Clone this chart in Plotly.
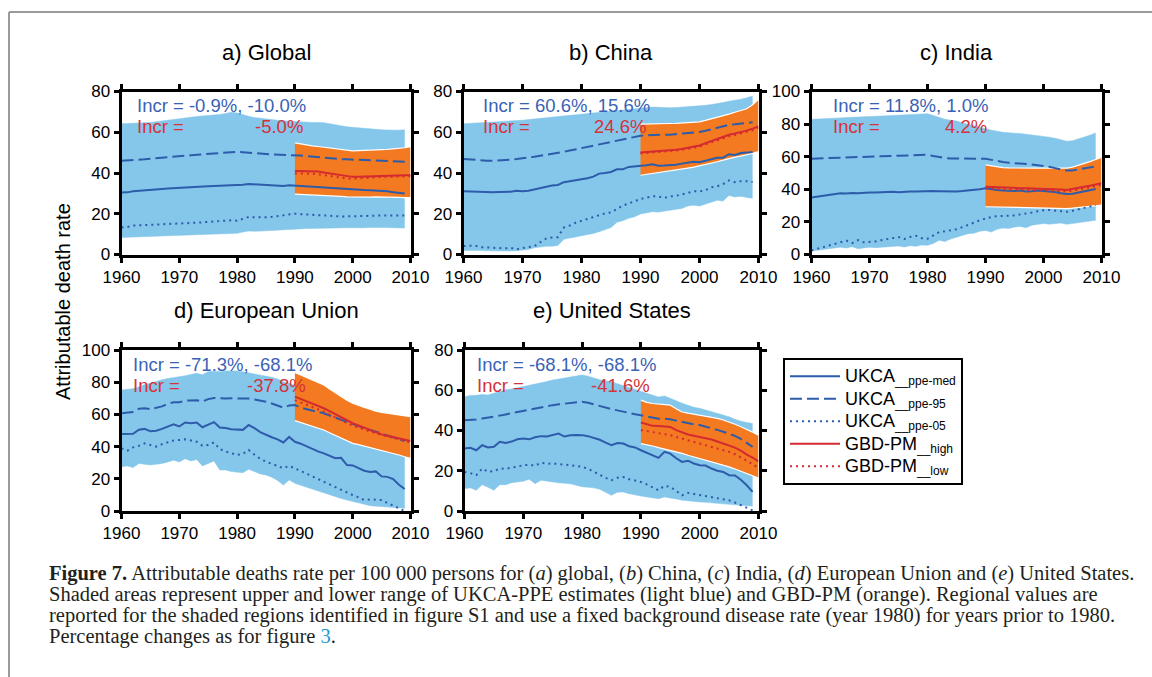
import plotly.graph_objects as go

# ---------------- data ----------------
years_ukca = list(range(1960, 2010))   # 1960..2009
years_gbd = list(range(1990, 2011))    # 1990..2010

panel_titles = ["a) Global", "b) China", "c) India", "d) European Union", "e) United States"]
incr_blue = ["Incr = -0.9%, -10.0%", "Incr = 60.6%, 15.6%", "Incr = 11.8%, 1.0%",
             "Incr = -71.3%, -68.1%", "Incr = -68.1%, -68.1%"]
incr_red = ["-5.0%", "24.6%", "4.2%", "-37.8%", "-41.6%"]
y_max = [80, 80, 100, 100, 80]
x_ticks = [1960, 1970, 1980, 1990, 2000, 2010]

# Global
up_a = [64.2,64.3,64.4,64.5,64.6,64.8,65.2,65.6,66.0,66.4,66.8,67.1,67.4,67.7,68.0,68.2,68.4,68.7,69.2,69.8,69.5,68.6,67.8,67.2,66.8,66.5,66.2,65.9,65.6,65.4,65.2,65.0,64.9,64.8,64.8,64.7,64.2,63.6,63.0,62.7,62.4,62.1,61.8,61.6,61.4,61.2,61.1,61.0,61.0,61.2]
lo_a = [8.4,8.5,8.6,8.7,8.8,8.9,9.0,9.1,9.3,9.5,9.6,9.7,9.8,9.9,10.0,10.0,10.1,10.1,10.2,10.2,10.4,11.0,11.5,11.4,11.4,11.6,11.8,12.0,12.2,12.4,12.6,12.5,12.7,12.8,12.9,13.0,12.9,13.0,13.1,13.1,13.1,13.0,13.1,13.2,13.3,13.3,13.2,13.1,13.0,13.0]
med_a = [30.4,30.5,31.0,31.3,31.5,31.7,32.0,32.2,32.4,32.6,32.8,33.0,33.1,33.2,33.4,33.5,33.6,33.7,33.8,33.8,33.8,34.2,34.6,34.4,34.1,33.9,33.8,33.7,33.6,34.0,33.8,33.5,33.3,33.1,33.0,32.8,32.5,32.3,32.1,32.0,31.9,31.7,31.6,31.5,31.4,31.2,31.0,30.6,30.2,29.9]
p95_a = [46.0,46.1,46.3,46.5,46.7,47.0,47.3,47.5,47.8,48.0,48.3,48.5,48.7,49.0,49.2,49.4,49.6,49.8,50.0,50.2,50.4,50.2,49.9,49.7,49.5,49.3,49.1,49.0,48.9,48.9,48.9,48.6,48.3,48.0,47.7,47.4,47.2,47.0,46.8,46.7,46.6,46.4,46.3,46.2,46.1,46.0,45.9,45.8,45.6,45.5]
p05_a = [13.3,13.5,14.2,14.3,14.4,14.5,14.6,14.7,14.8,14.9,15.0,15.2,15.4,15.6,15.8,16.0,16.2,16.4,16.6,16.8,16.6,17.5,18.4,18.3,18.2,18.3,18.5,18.8,19.1,19.5,20.0,19.8,19.6,19.4,19.3,19.2,19.0,18.8,18.7,18.7,18.7,18.8,18.9,19.0,19.1,19.2,19.3,19.2,19.2,19.2]
gu_a = [54.8,54.2,53.7,53.3,53.0,52.6,52.2,51.8,51.4,51.1,50.9,51.0,51.2,51.3,51.4,51.5,51.6,51.8,52.0,52.4,52.9]
gl_a = [29.6,29.5,29.4,29.3,29.2,29.1,28.9,28.7,28.5,28.3,28.2,28.2,28.2,28.2,28.3,28.3,28.2,28.1,28.0,27.9,27.9]
gh_a = [41.0,41.0,41.0,40.9,40.7,40.3,39.8,39.3,38.8,38.4,38.1,38.1,38.2,38.4,38.6,38.8,38.8,38.9,38.9,38.9,38.9]
gw_a = [39.8,39.8,39.7,39.6,39.4,39.0,38.5,38.0,37.6,37.3,37.2,37.3,37.5,37.7,37.9,38.1,38.2,38.3,38.3,38.4,38.4]

# China
up_b = [64.2,64.3,64.5,64.7,64.9,65.0,65.2,65.3,65.5,65.7,65.9,66.2,66.5,66.8,67.1,67.4,67.6,67.9,68.2,68.4,68.7,69.0,69.4,69.7,70.0,70.4,70.7,71.0,71.3,71.6,72.0,72.3,72.4,72.3,72.1,72.0,72.1,72.3,72.5,72.7,72.8,73.2,73.6,74.0,74.6,75.2,75.6,76.2,76.9,77.8]
lo_b = [2.0,2.1,1.9,2.0,1.8,1.7,1.8,1.6,1.7,1.9,2.2,2.5,3.3,3.8,4.0,4.1,4.4,7.5,8.0,8.5,9.1,9.6,10.3,11.2,12.2,13.2,15.8,16.6,17.8,18.5,19.9,20.4,21.0,20.8,21.3,21.5,22.0,22.6,23.8,24.2,23.8,24.8,25.6,26.6,26.2,29.0,28.2,28.6,28.0,27.6]
med_b = [31.0,30.9,30.8,30.7,30.5,30.6,30.7,30.6,30.8,31.3,31.0,31.3,31.9,32.6,33.2,33.9,34.1,35.5,36.0,36.4,36.8,37.4,38.2,39.7,40.0,40.5,41.8,41.8,43.0,43.2,43.5,43.8,44.3,43.6,43.7,43.8,44.1,44.6,45.0,45.5,45.3,46.0,46.6,47.5,47.5,49.2,48.8,49.8,50.0,50.3]
p95_b = [46.9,46.6,46.4,46.2,46.0,46.0,46.1,46.3,46.6,46.9,47.2,47.6,48.0,48.5,48.9,49.3,49.8,50.4,51.0,51.6,52.2,52.9,53.6,54.3,54.9,55.5,56.1,56.7,57.3,57.8,58.3,58.5,58.7,58.8,58.8,58.8,59.0,59.3,59.6,59.9,60.1,60.7,61.4,62.0,62.8,63.7,63.9,64.2,64.5,64.9]
p05_b = [4.2,4.3,4.3,3.6,3.5,3.3,3.2,3.0,3.3,2.5,3.2,3.6,4.1,6.0,7.8,8.3,8.5,13.2,14.2,15.6,16.6,17.5,18.4,19.5,20.2,20.7,22.5,24.0,25.0,26.0,27.3,27.8,28.6,28.5,27.8,28.5,28.8,29.5,30.3,31.0,31.0,31.5,33.0,33.5,34.5,36.4,35.5,36.0,36.0,35.6]
gu_b = [64.0,64.0,64.1,64.1,64.2,64.3,64.4,64.5,64.6,64.8,65.1,65.8,66.5,67.3,68.1,68.9,69.8,70.6,71.5,73.5,76.2]
gl_b = [38.9,39.3,39.8,40.2,40.6,41.0,41.5,41.9,42.4,42.9,43.5,44.1,44.8,45.5,46.3,47.2,47.8,48.3,48.8,49.6,50.5]
gh_b = [50.0,50.2,50.4,50.6,50.8,51.0,51.4,51.8,52.3,52.8,53.5,54.6,55.6,56.6,57.7,58.8,59.4,60.0,60.8,61.8,62.9]
gw_b = [49.6,49.8,50.0,50.2,50.4,50.6,51.0,51.4,51.8,52.3,53.0,54.0,55.0,56.0,57.0,58.0,58.6,59.3,60.0,61.0,62.1]

# India
up_c = [82.9,83.0,83.2,83.4,83.6,83.8,84.0,84.1,84.2,84.3,84.5,84.7,84.9,85.1,85.3,85.5,85.7,85.9,86.1,86.3,86.4,85.2,84.0,83.0,82.4,81.9,80.8,79.8,78.8,77.9,77.1,76.3,75.6,75.0,74.7,74.6,74.2,73.8,73.4,73.0,72.6,72.0,71.3,70.5,69.5,69.8,70.8,71.9,73.2,74.6]
lo_c = [2.1,2.5,3.0,3.5,4.0,4.5,4.0,4.8,3.6,4.2,4.5,4.2,4.4,4.7,4.9,5.2,4.6,5.4,5.0,5.8,5.6,6.8,8.7,8.0,9.5,10.7,11.5,12.8,13.0,14.2,14.8,13.8,15.5,16.2,16.0,16.9,17.2,16.4,18.0,18.5,19.0,18.6,18.8,19.3,18.5,19.0,19.5,20.0,20.5,21.0]
med_c = [35.0,35.5,36.3,36.8,37.2,37.5,37.4,37.8,37.6,38.0,38.1,38.0,38.3,38.4,38.5,38.2,38.6,38.7,38.6,38.8,39.0,38.9,38.8,38.7,38.6,38.6,38.9,39.2,39.6,40.1,40.6,40.0,39.6,39.3,39.0,39.0,39.2,38.6,38.8,39.2,39.0,38.7,38.3,37.6,37.1,37.3,38.0,38.8,39.5,40.2]
p95_c = [58.8,58.9,59.0,59.1,59.3,59.4,59.5,59.6,59.7,59.8,59.8,59.9,60.0,60.1,60.2,60.4,60.5,60.7,60.9,61.0,61.2,60.4,59.7,59.2,58.9,58.8,58.7,58.7,58.8,58.8,58.8,58.0,57.3,56.7,56.3,56.1,55.9,55.6,55.2,54.8,54.4,53.8,53.0,52.2,51.5,51.6,52.1,52.7,53.4,54.0]
p05_c = [2.5,3.5,4.5,5.5,6.5,7.6,8.5,7.0,8.8,7.5,7.6,8.0,8.8,9.5,10.0,10.7,9.5,10.8,11.5,10.0,9.7,11.5,13.8,14.2,14.8,15.5,16.8,18.0,19.5,21.0,22.0,23.0,23.5,23.5,23.8,24.0,24.5,25.2,25.8,26.5,27.2,27.3,27.0,26.6,26.2,26.8,27.6,28.5,29.4,30.3]
gu_c = [55.0,54.4,53.8,53.3,53.1,53.0,53.0,53.0,53.0,53.0,53.0,53.0,53.0,53.0,53.0,53.6,54.6,55.8,57.0,58.3,59.6]
gl_c = [29.3,29.2,29.1,29.0,29.0,28.9,28.9,28.8,28.8,28.7,28.7,28.6,28.5,28.4,28.2,28.4,28.8,29.2,29.6,30.0,30.3]
gh_c = [41.6,41.4,41.2,41.0,40.9,40.8,40.7,40.7,40.6,40.6,40.6,40.4,40.2,39.9,39.6,40.1,40.8,41.5,42.2,43.0,43.7]
gw_c = [40.6,40.4,40.2,40.0,39.9,39.8,39.7,39.7,39.6,39.6,39.6,39.4,39.2,38.9,38.7,39.1,39.8,40.5,41.2,42.0,42.7]

# European Union
up_d = [75.2,75.6,76.0,77.0,78.5,79.3,80.5,81.5,82.3,82.8,83.4,84.0,84.8,85.5,84.6,86.5,86.8,86.5,87.0,87.0,87.0,86.5,85.8,85.2,84.6,84.0,83.0,82.0,80.3,79.3,78.0,76.8,75.5,74.3,73.1,72.0,70.2,68.4,66.6,64.8,63.0,61.8,60.6,59.4,58.2,57.0,56.5,56.0,55.5,55.0]
lo_d = [27.5,28.0,27.0,29.5,29.0,28.6,29.0,29.5,30.5,31.5,30.5,32.5,31.0,32.0,28.0,29.6,31.0,25.5,25.5,24.5,24.0,23.8,26.0,24.5,23.0,22.4,21.0,19.0,16.1,19.3,17.2,16.0,14.8,13.6,12.3,11.0,10.0,9.0,7.8,6.8,5.8,5.0,4.2,3.3,3.1,2.7,2.4,2.1,1.9,1.7]
med_d = [47.8,48.0,48.0,50.5,51.0,49.5,49.8,51.0,52.5,53.8,52.5,55.0,54.5,55.0,52.0,53.8,55.2,51.8,51.6,50.8,50.5,50.4,53.4,51.5,49.0,47.2,45.8,44.5,42.6,46.0,43.0,41.8,40.2,38.2,37.0,35.8,34.5,32.8,33.0,28.5,28.3,26.8,25.0,24.3,24.6,21.5,21.2,19.8,16.3,13.7]
p95_d = [60.7,61.0,61.5,63.5,63.8,63.2,64.0,65.0,66.5,67.5,67.5,68.5,68.7,68.8,68.0,69.5,70.2,69.8,69.8,70.0,70.0,70.0,69.8,69.3,68.7,67.9,66.8,65.5,64.2,65.5,65.8,64.2,63.2,62.3,61.5,60.7,59.3,57.9,56.5,55.1,53.8,52.7,51.5,50.4,49.3,48.2,47.1,45.9,44.7,43.5]
p05_d = [38.9,37.5,39.5,40.5,42.0,41.0,40.0,41.5,42.5,43.8,44.1,44.5,43.8,43.0,40.5,41.0,42.6,38.5,37.0,36.0,34.8,35.5,37.9,35.0,32.5,30.6,29.5,28.0,26.5,28.0,26.5,25.0,23.2,21.5,19.8,18.2,16.5,14.8,13.2,11.5,9.9,8.5,6.8,7.2,7.0,6.8,5.0,3.2,1.5,0.0]
gu_d = [86.1,84.5,82.8,81.0,79.8,78.3,75.8,73.4,71.0,68.8,66.9,65.4,64.4,63.2,62.0,61.3,60.8,60.3,59.7,59.1,58.6]
gl_d = [56.1,55.0,53.8,52.6,51.5,50.3,48.6,47.0,45.3,43.6,42.0,41.2,40.3,39.5,38.7,37.9,36.9,35.8,34.8,33.7,32.7]
gh_d = [71.0,69.6,68.1,66.7,65.2,63.8,62.0,60.1,58.2,56.3,54.5,53.1,51.7,50.3,48.9,47.6,46.8,46.0,45.1,44.3,43.5]
gw_d = [68.9,67.5,66.0,64.6,63.1,61.7,59.9,58.1,56.4,54.7,53.0,51.8,50.5,49.3,48.2,47.2,46.3,45.3,44.4,43.5,42.6]

# United States
up_e = [56.8,57.4,57.5,57.9,57.6,58.4,59.5,60.3,60.6,61.2,61.7,62.3,62.8,63.7,64.3,65.1,65.5,66.2,66.6,67.1,67.6,67.0,66.0,65.2,64.7,64.2,63.2,62.3,61.3,60.3,59.3,58.5,57.6,56.6,57.2,55.9,54.8,53.6,52.5,51.5,51.0,50.2,49.4,48.6,47.6,46.8,45.6,44.6,44.0,43.5]
lo_e = [11.1,11.5,10.3,13.1,11.8,10.3,13.1,13.0,14.0,14.5,14.8,15.8,13.6,15.3,14.8,14.4,14.0,13.8,13.5,12.8,12.0,11.8,11.5,10.8,9.5,7.8,9.3,9.5,8.6,8.2,7.5,7.0,6.4,6.1,7.0,6.6,6.0,5.4,5.0,4.8,4.5,4.3,4.0,3.7,3.4,3.2,3.0,2.8,2.6,2.5]
med_e = [31.0,31.4,30.2,32.7,31.6,31.9,34.4,33.8,34.5,35.6,36.0,35.6,36.6,37.2,37.0,37.7,38.5,37.0,37.6,37.8,37.7,37.2,36.2,35.4,34.0,32.7,33.8,33.5,32.2,31.6,30.2,28.8,27.8,26.4,29.4,28.5,26.2,24.4,25.0,23.6,22.7,22.6,21.1,20.0,19.4,17.8,17.7,15.5,12.8,9.5]
p95_e = [45.1,45.2,45.5,46.0,46.4,46.8,47.4,48.0,48.6,49.1,49.6,50.2,50.8,51.4,52.0,52.6,53.0,53.3,53.6,54.0,54.3,53.8,53.0,52.0,51.3,50.6,50.0,49.3,48.7,48.1,47.6,47.0,46.4,45.8,45.8,45.6,44.9,44.2,43.6,43.1,42.7,42.0,41.2,40.3,39.4,38.5,37.3,35.8,34.0,31.9]
p05_e = [19.4,18.8,17.8,21.1,19.5,19.8,21.1,21.0,21.5,22.2,22.7,23.0,22.5,24.0,23.5,23.6,23.4,23.2,22.8,22.4,21.9,21.0,19.5,17.8,16.5,15.3,16.5,16.9,15.8,15.2,14.4,13.2,11.8,10.3,12.5,12.0,10.0,7.8,9.0,8.5,8.1,7.6,7.0,6.4,5.8,5.3,4.2,3.0,1.6,0.3]
gu_e = [55.1,54.0,53.4,53.2,53.0,52.6,50.8,49.2,48.6,48.1,47.6,47.0,46.5,46.0,45.2,44.3,43.1,41.9,40.7,39.2,37.7]
gl_e = [33.5,33.0,32.3,31.5,30.8,30.2,29.4,28.6,27.7,26.9,26.1,25.3,24.5,23.6,22.8,21.9,20.9,19.8,18.7,17.6,16.4]
gh_e = [44.0,43.0,42.3,42.2,42.0,41.8,40.2,39.0,38.0,37.4,36.8,36.0,35.5,34.5,33.5,32.7,31.5,30.0,28.0,26.5,24.7]
gw_e = [40.2,39.7,39.2,38.7,38.2,37.7,36.8,36.0,35.2,34.3,33.5,32.7,31.9,31.1,30.2,29.4,28.2,26.8,25.0,23.3,21.4]

ukca_up = [up_a, up_b, up_c, up_d, up_e]
ukca_lo = [lo_a, lo_b, lo_c, lo_d, lo_e]
ukca_med = [med_a, med_b, med_c, med_d, med_e]
ukca_95 = [p95_a, p95_b, p95_c, p95_d, p95_e]
ukca_05 = [p05_a, p05_b, p05_c, p05_d, p05_e]
gbd_up = [gu_a, gu_b, gu_c, gu_d, gu_e]
gbd_lo = [gl_a, gl_b, gl_c, gl_d, gl_e]
gbd_high = [gh_a, gh_b, gh_c, gh_d, gh_e]
gbd_low = [gw_a, gw_b, gw_c, gw_d, gw_e]

legend_main = ["UKCA", "UKCA", "UKCA", "GBD-PM", "GBD-PM"]
legend_sub = ["__ppe-med", "__ppe-95", "__ppe-05", "__high", "__low"]

caption_lines = [
    "<b>Figure 7.</b> Attributable deaths rate per 100 000 persons for (<i>a</i>) global, (<i>b</i>) China, (<i>c</i>) India, (<i>d</i>) European Union and (<i>e</i>) United States.",
    "Shaded areas represent upper and lower range of UKCA-PPE estimates (light blue) and GBD-PM (orange). Regional values are",
    "reported for the shaded regions identified in figure S1 and use a fixed background disease rate (year 1980) for years prior to 1980.",
    "Percentage changes as for figure <span style='color:#1f9bd0'>3</span>.",
]

# ---------------- style / layout ----------------
W, H = 1152, 677
FONT = "Liberation Sans, Arial, sans-serif"
SERIF = "Liberation Serif, Times New Roman, serif"
BLUE = "#2d5caa"
RED = "#d42a30"
LIGHTBLUE = "#85c6eb"
ORANGE = "#f37a21"
TXT_BLUE = "#3a62b4"
TXT_RED = "#d4333a"

# pixel boxes (left, right, top, bottom)
boxes = [(121.5, 410.5, 91.5, 254.5), (463.5, 758.5, 91.5, 254.5), (811.5, 1101.5, 91.5, 254.5),
         (121.5, 410.5, 350, 511), (464.5, 758.5, 350, 511)]
incr_pos = [(135, 305, 106, 126), (481, 648, 106, 126), (831, 989, 106, 126),
            (131, 308, 364, 385), (475, 652, 364, 385)]


def px(x):
    return x / W


def py(y):
    return 1 - y / H


def legend_label(k):
    return (f"<span style='font-size:18px'>{legend_main[k]}</span>"
            f"<sub><span style='font-size:12px'>{legend_sub[k]}</span></sub>")


fig = go.Figure()
annotations = []

for i in range(5):
    xa = "x" if i == 0 else f"x{i+1}"
    ya = "y" if i == 0 else f"y{i+1}"
    leg = (i == 0)
    # UKCA band
    fig.add_trace(go.Scatter(x=years_ukca, y=ukca_lo[i], xaxis=xa, yaxis=ya, mode="lines",
                             line=dict(color=LIGHTBLUE, width=0.5), showlegend=False, hoverinfo="skip"))
    fig.add_trace(go.Scatter(x=years_ukca, y=ukca_up[i], xaxis=xa, yaxis=ya, mode="lines",
                             line=dict(color=LIGHTBLUE, width=0.5), fill="tonexty", fillcolor=LIGHTBLUE,
                             showlegend=False, hoverinfo="skip"))
    # GBD band
    fig.add_trace(go.Scatter(x=years_gbd, y=gbd_lo[i], xaxis=xa, yaxis=ya, mode="lines",
                             line=dict(color="white", width=1.2), showlegend=False, hoverinfo="skip"))
    fig.add_trace(go.Scatter(x=years_gbd, y=gbd_up[i], xaxis=xa, yaxis=ya, mode="lines",
                             line=dict(color="white", width=1.2), fill="tonexty", fillcolor=ORANGE,
                             showlegend=False, hoverinfo="skip"))
    # lines
    fig.add_trace(go.Scatter(x=years_ukca, y=ukca_med[i], xaxis=xa, yaxis=ya, mode="lines",
                             line=dict(color=BLUE, width=2), name=legend_label(0), showlegend=leg))
    fig.add_trace(go.Scatter(x=years_ukca, y=ukca_95[i], xaxis=xa, yaxis=ya, mode="lines",
                             line=dict(color=BLUE, width=2, dash="12px,5px"), name=legend_label(1), showlegend=leg))
    fig.add_trace(go.Scatter(x=years_ukca, y=ukca_05[i], xaxis=xa, yaxis=ya, mode="lines",
                             line=dict(color=BLUE, width=2, dash="2px,4px"), name=legend_label(2), showlegend=leg))
    fig.add_trace(go.Scatter(x=years_gbd, y=gbd_high[i], xaxis=xa, yaxis=ya, mode="lines",
                             line=dict(color=RED, width=2), name=legend_label(3), showlegend=leg))
    fig.add_trace(go.Scatter(x=years_gbd, y=gbd_low[i], xaxis=xa, yaxis=ya, mode="lines",
                             line=dict(color=RED, width=2, dash="2px,4px"), name=legend_label(4), showlegend=leg))

    l, r, t, b = boxes[i]
    axis_common = dict(showline=True, linecolor="black", linewidth=3, mirror="ticks",
                       ticks="outside", ticklen=5, tickwidth=3, tickcolor="black",
                       showgrid=False, zeroline=False, automargin=False,
                       tickfont=dict(family=FONT, size=17, color="black"))
    xkey = "xaxis" if i == 0 else f"xaxis{i+1}"
    ykey = "yaxis" if i == 0 else f"yaxis{i+1}"
    fig.update_layout(**{
        xkey: dict(domain=[px(l), px(r)], anchor=ya, range=[1960, 2010],
                   tickvals=x_ticks, **axis_common),
        ykey: dict(domain=[py(b), py(t)], anchor=xa, range=[0, y_max[i]],
                   dtick=20, tick0=0, **axis_common),
    })

    # title
    annotations.append(dict(x=px((l + r) / 2), y=py(52 if i < 3 else 310), xref="paper", yref="paper",
                            text=panel_titles[i], showarrow=False, xanchor="center", yanchor="middle",
                            font=dict(family=FONT, size=22, color="black")))
    xl, xr, yb, yr = incr_pos[i]
    annotations.append(dict(x=px(xl), y=py(yb), xref="paper", yref="paper", text=incr_blue[i],
                            showarrow=False, xanchor="left", yanchor="middle",
                            font=dict(family=FONT, size=18.5, color=TXT_BLUE)))
    annotations.append(dict(x=px(xl), y=py(yr), xref="paper", yref="paper", text="Incr =",
                            showarrow=False, xanchor="left", yanchor="middle",
                            font=dict(family=FONT, size=18.5, color=TXT_RED)))
    annotations.append(dict(x=px(xr), y=py(yr), xref="paper", yref="paper", text=incr_red[i],
                            showarrow=False, xanchor="right", yanchor="middle",
                            font=dict(family=FONT, size=18.5, color=TXT_RED)))

# y-axis title
annotations.append(dict(x=px(63), y=py(302), xref="paper", yref="paper", text="Attributable death rate",
                        textangle=-90, showarrow=False, xanchor="center", yanchor="middle",
                        font=dict(family=FONT, size=20, color="black")))

# caption
cap_y = [573, 594, 615, 636]
for k, line in enumerate(caption_lines):
    annotations.append(dict(x=px(47), y=py(cap_y[k]), xref="paper", yref="paper", text=line,
                            showarrow=False, xanchor="left", yanchor="middle",
                            font=dict(family=SERIF, size=20.5, color="#231f20")))

shapes = [
    dict(type="line", xref="paper", yref="paper", x0=px(9), x1=1, y0=py(12), y1=py(12),
         line=dict(color="#9a9a9a", width=2)),
    dict(type="line", xref="paper", yref="paper", x0=px(9), x1=px(9), y0=py(12), y1=0,
         line=dict(color="#9a9a9a", width=2)),
]

fig.update_layout(
    width=W, height=H, autosize=False,
    margin=dict(l=0, r=0, t=0, b=0, autoexpand=False),
    paper_bgcolor="white", plot_bgcolor="white",
    annotations=annotations, shapes=shapes,
    legend=dict(x=px(783), y=py(358), xanchor="left", yanchor="top",
                bordercolor="black", borderwidth=2, bgcolor="white",
                font=dict(family=FONT, size=15, color="black"),
                tracegroupgap=0, itemwidth=50, traceorder="normal",
                entrywidth=140, entrywidthmode="pixels"),
    showlegend=True,
    hovermode=False,
)

fig.write_html("out.html", config={"displayModeBar": False},
               post_script="document.body.style.margin='0px';")
